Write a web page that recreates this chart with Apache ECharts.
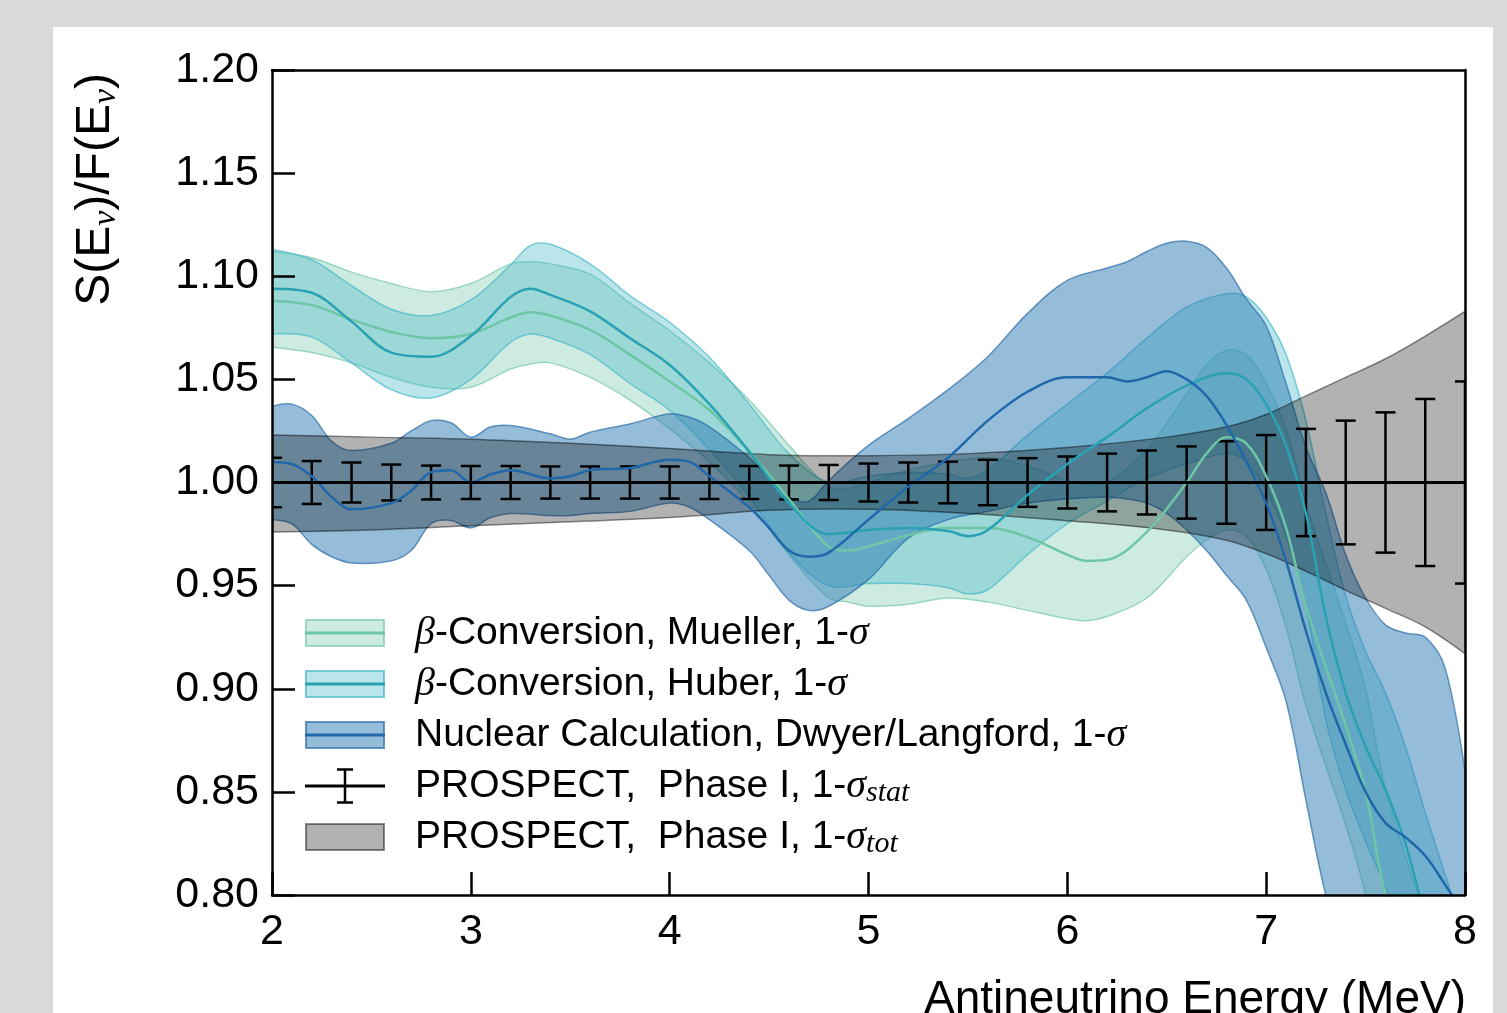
<!DOCTYPE html>
<html>
<head>
<meta charset="utf-8">
<title>Reactor antineutrino spectrum ratio</title>
<script src="https://cdn.jsdelivr.net/npm/echarts@6/dist/echarts.min.js"></script>
<style>
  html, body { margin: 0; padding: 0; background: #d9d9d9; overflow: hidden; }
  #chart { position: absolute; left: 53px; top: 27px; width: 1440px; height: 986px; background: #ffffff; }
</style>
</head>
<body>
<div id="chart"></div>
<script>
const SANS = '"Liberation Sans", Arial, Helvetica, sans-serif'
const SERIF = '"Liberation Serif", "DejaVu Serif", serif'

// axis ticks
const xTicks = [2, 3, 4, 5, 6, 7, 8]
const yTicks = [0.80, 0.85, 0.90, 0.95, 1.00, 1.05, 1.10, 1.15, 1.20]

// beta-conversion, Mueller
const muellerE = [2.0, 2.2, 2.4, 2.6, 2.8, 3.0, 3.2, 3.3, 3.4, 3.6, 3.8, 4.0, 4.2, 4.4, 4.6, 4.8, 4.9, 5.0, 5.2, 5.4, 5.6, 5.8, 6.0, 6.1, 6.2, 6.4, 6.6, 6.7, 6.8, 6.9, 7.0, 7.1, 7.2, 7.4, 7.5, 7.6, 7.8, 8.0]
const muellerMid = [1.088, 1.086, 1.079, 1.073, 1.070, 1.072, 1.080, 1.0825, 1.081, 1.074, 1.062, 1.049, 1.035, 1.015, 0.992, 0.969, 0.967, 0.969, 0.9745, 0.978, 0.978, 0.9735, 0.965, 0.962, 0.9625, 0.976, 1.000, 1.014, 1.022, 1.019, 1.003, 0.978, 0.940, 0.882, 0.850, 0.800, 0.740, 0.690]
const muellerHi = [1.112, 1.109, 1.102, 1.0965, 1.0925, 1.0965, 1.106, 1.107, 1.106, 1.101, 1.087, 1.0736, 1.058, 1.040, 1.018, 0.998, 0.997, 1.000, 1.006, 1.010, 1.012, 1.008, 1.001, 0.999, 1.000, 1.016, 1.043, 1.057, 1.064, 1.062, 1.048, 1.026, 0.990, 0.932, 0.900, 0.852, 0.790, 0.740]
const muellerLo = [1.0656, 1.063, 1.058, 1.051, 1.0462, 1.0462, 1.055, 1.0575, 1.058, 1.051, 1.040, 1.026, 1.010, 0.990, 0.965, 0.944, 0.942, 0.940, 0.941, 0.944, 0.942, 0.938, 0.934, 0.933, 0.935, 0.944, 0.964, 0.972, 0.977, 0.974, 0.958, 0.930, 0.892, 0.834, 0.800, 0.750, 0.690, 0.640]

// beta-conversion, Huber
const huberE = [2.0, 2.2, 2.4, 2.6, 2.8, 3.0, 3.2, 3.3, 3.4, 3.6, 3.8, 4.0, 4.2, 4.4, 4.6, 4.8, 5.0, 5.2, 5.4, 5.5, 5.6, 5.8, 6.0, 6.2, 6.4, 6.6, 6.8, 6.9, 7.0, 7.1, 7.2, 7.3, 7.4, 7.5, 7.6, 7.7, 7.8, 8.0]
const huberMid = [1.094, 1.092, 1.078, 1.063, 1.061, 1.071, 1.090, 1.094, 1.091, 1.083, 1.070, 1.057, 1.038, 1.015, 0.990, 0.975, 0.977, 0.978, 0.9765, 0.974, 0.977, 0.994, 1.009, 1.022, 1.036, 1.047, 1.053, 1.050, 1.038, 1.018, 0.985, 0.935, 0.898, 0.872, 0.851, 0.825, 0.790, 0.730]
const huberHi = [1.113, 1.108, 1.0955, 1.084, 1.081, 1.0885, 1.1055, 1.115, 1.1155, 1.106, 1.0906, 1.0777, 1.0607, 1.038, 1.014, 1.000, 1.003, 1.005, 1.004, 1.002, 1.006, 1.023, 1.038, 1.053, 1.070, 1.085, 1.0915, 1.090, 1.080, 1.062, 1.030, 0.985, 0.945, 0.918, 0.898, 0.872, 0.840, 0.780]
const huberLo = [1.072, 1.0705, 1.058, 1.045, 1.041, 1.050, 1.068, 1.072, 1.070, 1.062, 1.048, 1.035, 1.016, 0.993, 0.966, 0.950, 0.951, 0.951, 0.949, 0.946, 0.948, 0.965, 0.980, 0.991, 1.002, 1.009, 1.014, 1.010, 0.996, 0.974, 0.940, 0.885, 0.851, 0.826, 0.804, 0.778, 0.740, 0.680]

// nuclear calculation, Dwyer/Langford
const nuclearE = [2.0, 2.1, 2.2, 2.3, 2.4, 2.6, 2.7, 2.8, 2.9, 3.0, 3.1, 3.2, 3.4, 3.5, 3.6, 3.8, 4.0, 4.1, 4.2, 4.4, 4.5, 4.6, 4.7, 4.8, 5.0, 5.2, 5.4, 5.6, 5.8, 6.0, 6.2, 6.3, 6.4, 6.5, 6.6, 6.7, 6.8, 6.9, 7.0, 7.1, 7.2, 7.3, 7.4, 7.5, 7.6, 7.7, 7.8, 7.9, 8.0]
const nuclearMid = [1.010, 1.009, 1.003, 0.993, 0.987, 0.990, 0.996, 1.005, 1.006, 1.000, 1.004, 1.006, 1.002, 1.003, 1.006, 1.007, 1.011, 1.010, 1.003, 0.988, 0.978, 0.967, 0.964, 0.966, 0.982, 0.998, 1.012, 1.030, 1.044, 1.051, 1.051, 1.049, 1.051, 1.054, 1.050, 1.042, 1.028, 1.010, 0.990, 0.962, 0.928, 0.898, 0.873, 0.850, 0.835, 0.828, 0.819, 0.805, 0.790]
const nuclearHi = [1.037, 1.038, 1.0325, 1.020, 1.0155, 1.019, 1.025, 1.030, 1.029, 1.022, 1.027, 1.0276, 1.0236, 1.021, 1.0244, 1.0284, 1.0333, 1.0316, 1.027, 1.012, 1.002, 0.993, 0.991, 1.001, 1.018, 1.031, 1.045, 1.061, 1.082, 1.098, 1.104, 1.107, 1.112, 1.116, 1.117, 1.114, 1.104, 1.089, 1.076, 1.048, 1.017, 0.995, 0.965, 0.944, 0.931, 0.927, 0.925, 0.910, 0.860]
const nuclearLo = [0.982, 0.980, 0.970, 0.964, 0.961, 0.962, 0.967, 0.980, 0.9816, 0.978, 0.983, 0.985, 0.984, 0.984, 0.985, 0.986, 0.990, 0.988, 0.982, 0.967, 0.955, 0.943, 0.938, 0.940, 0.953, 0.973, 0.982, 0.986, 0.990, 0.992, 0.993, 0.992, 0.990, 0.985, 0.977, 0.967, 0.955, 0.943, 0.920, 0.894, 0.846, 0.800, 0.770, 0.750, 0.740, 0.730, 0.720, 0.710, 0.700]

// PROSPECT total uncertainty band
const totalE = [2.0, 2.5, 3.0, 3.5, 4.0, 4.5, 5.0, 5.5, 6.0, 6.5, 6.8, 7.0, 7.2, 7.4, 7.6, 7.8, 8.0]
const totalHi = [1.023, 1.022, 1.021, 1.019, 1.0165, 1.0135, 1.013, 1.014, 1.017, 1.022, 1.027, 1.033, 1.042, 1.051, 1.060, 1.071, 1.083]
const totalLo = [0.976, 0.977, 0.979, 0.981, 0.983, 0.9865, 0.987, 0.985, 0.9815, 0.977, 0.972, 0.9655, 0.957, 0.9477, 0.939, 0.930, 0.917]

// PROSPECT points with statistical errors
const statE = [2.0, 2.2, 2.4, 2.6, 2.8, 3.0, 3.2, 3.4, 3.6, 3.8, 4.0, 4.2, 4.4, 4.6, 4.8, 5.0, 5.2, 5.4, 5.6, 5.8, 6.0, 6.2, 6.4, 6.6, 6.8, 7.0, 7.2, 7.4, 7.6, 7.8, 8.0]
const statRatio = [1, 1, 1, 1, 1, 1, 1, 1, 1, 1, 1, 1, 1, 1, 1, 1, 1, 1, 1, 1, 1, 1, 1, 1, 1, 1, 1, 1, 1, 1, 1]
const statErr = [0.012, 0.0104, 0.0097, 0.0087, 0.0082, 0.008, 0.008, 0.0078, 0.0078, 0.0078, 0.0078, 0.008, 0.008, 0.0082, 0.0085, 0.0092, 0.0097, 0.0101, 0.011, 0.0118, 0.0126, 0.014, 0.0155, 0.0175, 0.020, 0.023, 0.026, 0.030, 0.034, 0.0405, 0.049]

const legendLabels = {
  mueller: '{i|β}-Conversion, Mueller, 1-{i|σ}',
  huber: '{i|β}-Conversion, Huber, 1-{i|σ}',
  nuclear: 'Nuclear Calculation, Dwyer/Langford, 1-{i|σ}',
  stat: 'PROSPECT,  Phase I, 1-{i|σ}{s|stat}',
  total: 'PROSPECT,  Phase I, 1-{i|σ}{s|tot}'
}

const styles = {
  mueller: { fill: 'rgba(102,194,164,0.32)', stroke: 'rgba(102,194,164,0.6)', line: '#6fc6a6' },
  huber: { fill: 'rgba(65,182,196,0.36)', stroke: 'rgba(65,182,196,0.65)', line: '#2aa2b4' },
  nuclear: { fill: 'rgba(44,123,182,0.5)', stroke: 'rgba(44,110,170,0.7)', line: '#2168aa' },
  total: { fill: 'rgba(0,0,0,0.3)', stroke: 'rgba(0,0,0,0.45)' }
}

const SMOOTH = 0.35

// same control-point rule as the line series smoothing
function curveThrough(pts) {
  const n = pts.length
  const cps = pts.map((p, i) => {
    if (i === 0 || i === n - 1) return [p, p]
    const prev = pts[i - 1]
    const next = pts[i + 1]
    const vx = next[0] - prev[0]
    const vy = next[1] - prev[1]
    const d0 = Math.hypot(p[0] - prev[0], p[1] - prev[1])
    const d1 = Math.hypot(next[0] - p[0], next[1] - p[1])
    const r = d0 + d1 > 0 ? d1 / (d0 + d1) : 0.5
    return [
      [p[0] - vx * SMOOTH * (1 - r), p[1] - vy * SMOOTH * (1 - r)],
      [p[0] + vx * SMOOTH * r, p[1] + vy * SMOOTH * r]
    ]
  })
  let d = ''
  for (let i = 0; i < n - 1; i++) {
    const a = cps[i][1]
    const b = cps[i + 1][0]
    const q = pts[i + 1]
    d += ' C' + a[0] + ',' + a[1] + ' ' + b[0] + ',' + b[1] + ' ' + q[0] + ',' + q[1]
  }
  return d
}

function bandSeries(name, E, lo, hi, st) {
  return {
    name: name,
    type: 'custom',
    coordinateSystem: 'cartesian2d',
    clip: true,
    silent: true,
    data: E.map((e, i) => [e, lo[i], hi[i]]),
    renderItem: function (params, api) {
      if (params.dataIndex !== 0) return null
      const top = E.map((e, i) => api.coord([e, hi[i]]))
      const bot = E.map((e, i) => api.coord([e, lo[i]])).reverse()
      const d = 'M' + top[0][0] + ',' + top[0][1] + curveThrough(top) +
        ' L' + bot[0][0] + ',' + bot[0][1] + curveThrough(bot) + ' Z'
      return {
        type: 'path',
        shape: { pathData: d },
        style: { fill: st.fill, stroke: st.stroke, lineWidth: 1.5 }
      }
    }
  }
}

function lineSeries(name, E, mid, color) {
  return {
    name: name,
    type: 'line',
    data: E.map((e, i) => [e, mid[i]]),
    smooth: SMOOTH,
    symbol: 'none',
    silent: true,
    clip: true,
    lineStyle: { color: color, width: 2.5 }
  }
}

function svgIcon(body) {
  const svg = '<svg xmlns="http://www.w3.org/2000/svg" width="105" height="36" viewBox="0 0 105 36">' + body + '</svg>'
  return 'image://data:image/svg+xml;charset=utf-8,' + encodeURIComponent(svg)
}

function bandIcon(st) {
  let body = '<rect x="1" y="5" width="78" height="26" fill="' + st.fill + '" stroke="' + st.stroke + '" stroke-width="2"/>'
  if (st.line) body += '<line x1="0" y1="18" x2="80" y2="18" stroke="' + st.line + '" stroke-width="3"/>'
  return svgIcon(body)
}

const statIcon = svgIcon(
  '<line x1="0" y1="18" x2="80" y2="18" stroke="#000" stroke-width="3"/>' +
  '<line x1="40" y1="1" x2="40" y2="35" stroke="#000" stroke-width="2.5"/>' +
  '<line x1="32" y1="1.5" x2="48" y2="1.5" stroke="#000" stroke-width="2.5"/>' +
  '<line x1="32" y1="34.5" x2="48" y2="34.5" stroke="#000" stroke-width="2.5"/>'
)

const chart = echarts.init(document.getElementById('chart'))

const axisLineStyle = { color: '#000', width: 2.5 }

const option = {
  animation: false,
  textStyle: { fontFamily: SANS },
  grid: { left: 219, right: 28, top: 43, bottom: 118 },
  xAxis: [
    {
      type: 'value',
      min: xTicks[0],
      max: xTicks[xTicks.length - 1],
      interval: 1,
      z: 10,
      axisLine: { show: true, onZero: false, lineStyle: axisLineStyle },
      axisTick: { show: true, inside: true, length: 23, lineStyle: axisLineStyle },
      axisLabel: { color: '#000', fontSize: 43, fontFamily: SANS, margin: 16 },
      splitLine: { show: false }
    },
    {
      type: 'value',
      position: 'top',
      min: xTicks[0],
      max: xTicks[xTicks.length - 1],
      z: 10,
      axisLine: { show: true, onZero: false, lineStyle: axisLineStyle },
      axisTick: { show: false },
      axisLabel: { show: false },
      splitLine: { show: false }
    }
  ],
  yAxis: [
    {
      type: 'value',
      min: yTicks[0],
      max: yTicks[yTicks.length - 1],
      interval: 0.05,
      z: 10,
      axisLine: { show: true, onZero: false, lineStyle: axisLineStyle },
      axisTick: { show: true, inside: true, length: 23, lineStyle: axisLineStyle },
      axisLabel: { color: '#000', fontSize: 43, fontFamily: SANS, margin: 13, formatter: v => v.toFixed(2) },
      splitLine: { show: false }
    },
    {
      type: 'value',
      position: 'right',
      min: yTicks[0],
      max: yTicks[yTicks.length - 1],
      z: 10,
      axisLine: { show: true, onZero: false, lineStyle: axisLineStyle },
      axisTick: { show: false },
      axisLabel: { show: false },
      splitLine: { show: false }
    }
  ],
  legend: {
    orient: 'vertical',
    left: 252,
    top: 584,
    padding: 0,
    itemGap: 7,
    itemWidth: 105,
    itemHeight: 36,
    selectedMode: false,
    data: [
      { name: 'mueller', icon: bandIcon(styles.mueller) },
      { name: 'huber', icon: bandIcon(styles.huber) },
      { name: 'nuclear', icon: bandIcon(styles.nuclear) },
      { name: 'stat', icon: statIcon },
      { name: 'total', icon: bandIcon(styles.total) }
    ],
    formatter: name => legendLabels[name],
    textStyle: {
      color: '#000',
      fontSize: 39,
      fontFamily: SANS,
      lineHeight: 44,
      rich: {
        i: { fontFamily: SERIF, fontStyle: 'italic', fontSize: 40, lineHeight: 44, color: '#000' },
        s: { fontFamily: SERIF, fontStyle: 'italic', fontSize: 30, lineHeight: 30, verticalAlign: 'bottom', color: '#000' }
      }
    }
  },
  graphic: [
    {
      type: 'text',
      x: 43,
      y: 46,
      rotation: Math.PI / 2,
      style: {
        text: 'S(E{s|ν})/F(E{s|ν})',
        fill: '#000',
        fontSize: 48,
        fontFamily: SANS,
        align: 'right',
        verticalAlign: 'middle',
        lineHeight: 54,
        rich: {
          s: { fontFamily: SERIF, fontStyle: 'italic', fontSize: 34, lineHeight: 34, verticalAlign: 'bottom', fill: '#000' }
        }
      }
    },
    {
      type: 'text',
      x: 1413,
      y: 996,
      style: {
        text: 'Antineutrino Energy (MeV)',
        fill: '#000',
        fontSize: 46,
        fontFamily: SANS,
        align: 'right',
        verticalAlign: 'bottom'
      }
    }
  ],
  series: [
    bandSeries('mueller', muellerE, muellerLo, muellerHi, styles.mueller),
    lineSeries('muellerMid', muellerE, muellerMid, styles.mueller.line),
    bandSeries('huber', huberE, huberLo, huberHi, styles.huber),
    lineSeries('huberMid', huberE, huberMid, styles.huber.line),
    bandSeries('nuclear', nuclearE, nuclearLo, nuclearHi, styles.nuclear),
    lineSeries('nuclearMid', nuclearE, nuclearMid, styles.nuclear.line),
    bandSeries('total', totalE, totalLo, totalHi, styles.total),
    {
      name: 'statLine',
      type: 'line',
      data: statE.map((e, i) => [e, statRatio[i]]),
      symbol: 'none',
      silent: true,
      lineStyle: { color: '#000', width: 3 }
    },
    {
      name: 'stat',
      type: 'custom',
      coordinateSystem: 'cartesian2d',
      clip: true,
      silent: true,
      data: statE.map((e, i) => [e, statRatio[i], statErr[i]]),
      renderItem: function (params, api) {
        const x = api.value(0)
        const y = api.value(1)
        const err = api.value(2)
        const top = api.coord([x, y + err])
        const bot = api.coord([x, y - err])
        const hw = 10
        const st = { stroke: '#000', lineWidth: 2.5 }
        return {
          type: 'group',
          children: [
            { type: 'line', shape: { x1: top[0], y1: top[1], x2: bot[0], y2: bot[1] }, style: st },
            { type: 'line', shape: { x1: top[0] - hw, y1: top[1], x2: top[0] + hw, y2: top[1] }, style: st },
            { type: 'line', shape: { x1: bot[0] - hw, y1: bot[1], x2: bot[0] + hw, y2: bot[1] }, style: st }
          ]
        }
      }
    }
  ]
}

chart.setOption(option)

window.addEventListener('resize', () => chart.resize())
</script>
</body>
</html>
